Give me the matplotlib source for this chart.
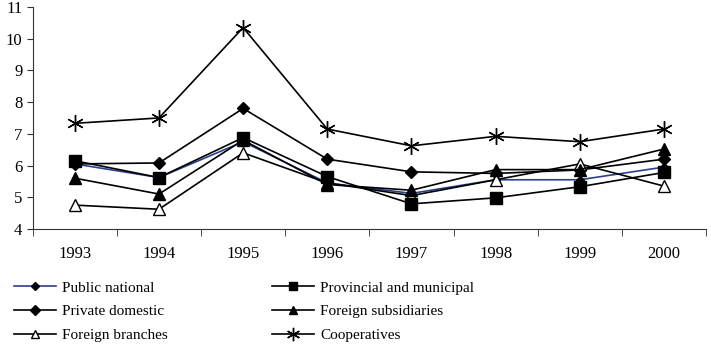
import matplotlib
matplotlib.use("Agg")
from matplotlib import pyplot as plt

years = ["1993", "1994", "1995", "1996", "1997", "1998", "1999", "2000"]

public_national = [6.05, 5.62, 6.75, 5.45, 5.12, 5.55, 5.55, 5.95]
provincial_municipal = [6.15, 5.62, 6.88, 5.65, 4.79, 4.98, 5.33, 5.78]
private_domestic = [6.05, 6.08, 7.8, 6.2, 5.8, 5.75, 5.86, 6.2]
foreign_subsidiaries = [5.6, 5.1, 6.8, 5.4, 5.22, 5.87, 5.87, 6.52]
foreign_branches = [4.75, 4.62, 6.4, 5.45, 5.05, 5.55, 6.05, 5.35]
cooperatives = [7.33, 7.5, 10.35, 7.15, 6.62, 6.92, 6.75, 7.15]

plt.rcParams['font.family'] = ['Liberation Serif', 'DejaVu Serif']

fig = plt.figure(figsize=(7.11, 3.5), dpi=100)
ax = fig.add_axes([0.046, 0.346, 0.947, 0.634])

x = list(range(len(years)))
lw = 1.2
ax.plot(x, public_national, color='#2b3f8c', lw=lw, marker='D', ms=4.5,
        mfc='black', mec='black', label='Public national', zorder=3)
ax.plot(x, private_domestic, color='black', lw=lw, marker='D', ms=6.5,
        mfc='black', mec='black', label='Private domestic', zorder=3)
ax.plot(x, foreign_branches, color='black', lw=lw, marker='^', ms=8,
        mfc='white', mec='black', label='Foreign branches', zorder=3)
ax.plot(x, provincial_municipal, color='black', lw=lw, marker='s', ms=8,
        mfc='black', mec='black', label='Provincial and municipal', zorder=3)
ax.plot(x, foreign_subsidiaries, color='black', lw=lw, marker='^', ms=8,
        mfc='black', mec='black', label='Foreign subsidiaries', zorder=3)
ax.plot(x, cooperatives, color='black', lw=lw, marker=(6, 2, 0), ms=12,
        mew=1.0, mec='black', label='Cooperatives', zorder=3)

ax.set_xlim(-0.5, len(years) - 0.5)
ax.set_ylim(4, 11)
ax.set_yticks(range(4, 12))
ax.set_xticks(x)
ax.set_xticklabels(years)
ax.set_xticks([i - 0.5 for i in range(len(years) + 1)], minor=True)
ax.tick_params(axis='x', which='major', length=0, pad=12, labelsize=12)
ax.tick_params(axis='x', which='minor', length=5, direction='out', color='#333333')
ax.tick_params(axis='y', length=4, direction='out', labelsize=12, color='#333333')
for s in ['top', 'right']:
    ax.spines[s].set_visible(False)
for s in ['left', 'bottom']:
    ax.spines[s].set_color('#333333')

handles, labels = ax.get_legend_handles_labels()
leg_kw = dict(loc='upper left', ncol=1, frameon=False, fontsize=11,
              handlelength=2.8, handletextpad=0.4, labelspacing=0.65,
              borderpad=0, borderaxespad=0, markerscale=0.8)
fig.legend(handles[:3], labels[:3], bbox_to_anchor=(0.019, 0.197), **leg_kw)
fig.legend(handles[3:], labels[3:], bbox_to_anchor=(0.382, 0.197), **leg_kw)

fig.savefig('out.png', dpi=100)
